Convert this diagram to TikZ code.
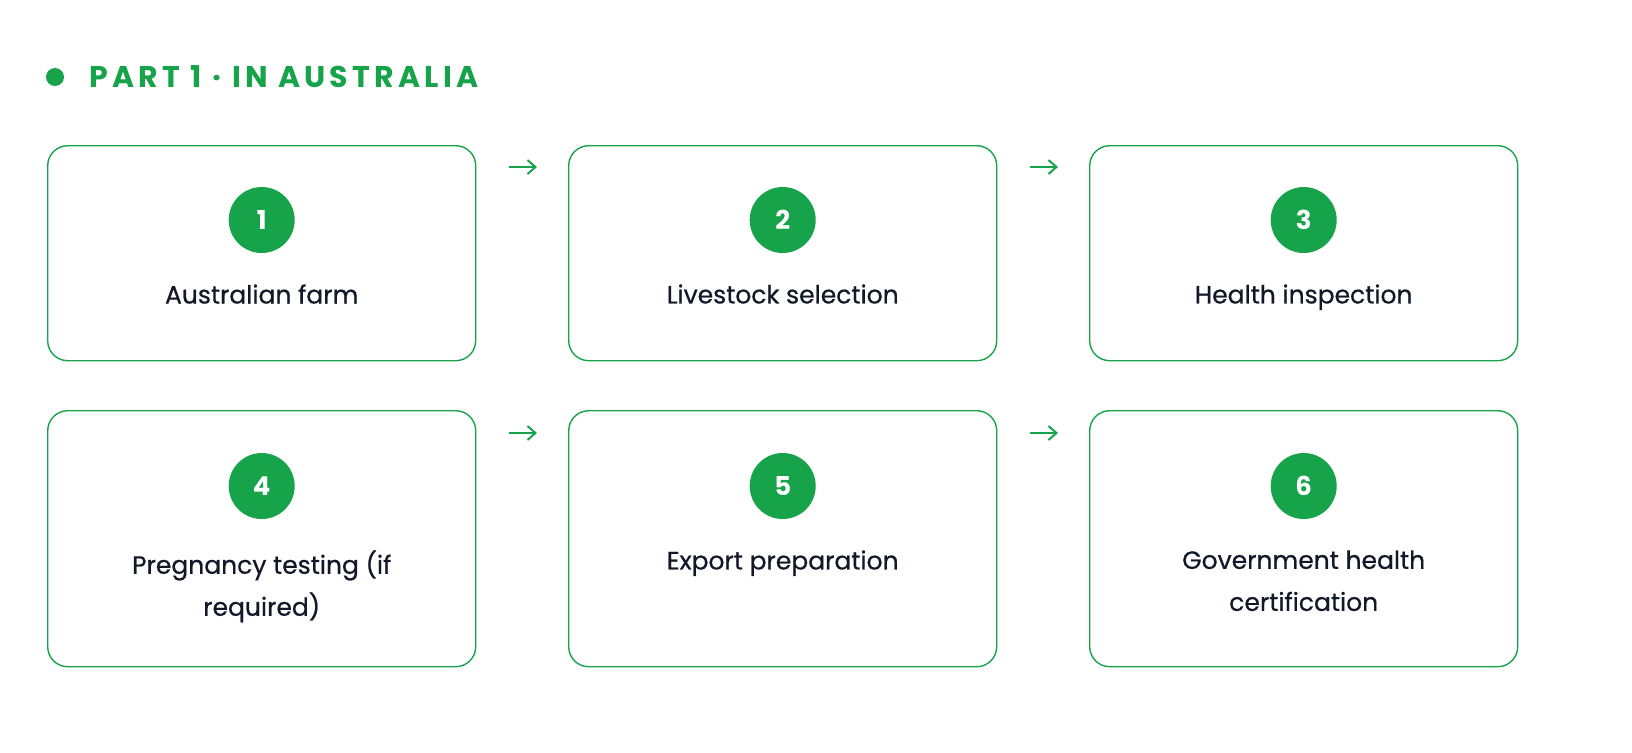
\documentclass[tikz,border=0pt]{standalone}
\usepackage{fontspec}
\setmainfont{Poppins}
\newfontfamily\headfont[LetterSpace=14]{Poppins}
\newfontfamily\stepfont[FakeBold=0.6]{Poppins}
\usetikzlibrary{arrows.meta,positioning}
\definecolor{farmgreen}{HTML}{16A34A}
\definecolor{inkdark}{HTML}{111827}
\begin{document}
\begin{tikzpicture}[x=0.5pt,y=-0.5pt,
  card/.style={draw=farmgreen,line width=0.7pt,rounded corners=10pt,minimum width=214pt,anchor=north west,inner sep=0pt},
  badge/.style={circle,fill=farmgreen,minimum size=33pt,inner sep=0pt,text=white,font=\fontsize{13}{15}\selectfont\bfseries},
  steptext/.style={anchor=north,align=center,text=inkdark,font=\stepfont\fontsize{12.5}{21}\selectfont,inner sep=0pt},
  flow/.style={-{Straight Barb[length=4pt,width=7pt]},draw=farmgreen,line width=1pt}]
\useasboundingbox (0,0) rectangle (1632,752);

\fill[farmgreen] (55,77) circle (4.5pt);
\node[anchor=west,inner sep=0pt,text=farmgreen,font=\headfont\fontsize{15}{18}\selectfont\bfseries] (title) at (89,77) {PART 1 · IN AUSTRALIA};

\foreach \i/\x/\txt in {1/47/Australian farm,2/568/Livestock selection,3/1089/Health inspection}
{
  \node[card,minimum height=107.5pt] (b\i) at (\x,145) {};
  \node[badge] (n\i) at ([yshift=-37.5pt]b\i.north) {\i};
  \node[steptext] (t\i) at ([yshift=-69.5pt]b\i.north) {\txt};
}
\foreach \i/\x/\txt in {4/47/{Pregnancy testing (if\\required)},5/568/Export preparation,6/1089/{Government health\\certification}}
{
  \node[card,minimum height=128pt] (b\i) at (\x,410) {};
  \node[badge] (n\i) at ([yshift=-38pt]b\i.north) {\i};
  \node[steptext] (t\i) at ([yshift=-70pt]b\i.north) {\txt};
}

\draw[flow] ([xshift=16.5pt,yshift=-11pt]b1.north east) -- ([xshift=-15.5pt,yshift=-11pt]b2.north west);
\draw[flow] ([xshift=16.5pt,yshift=-11pt]b2.north east) -- ([xshift=-15.5pt,yshift=-11pt]b3.north west);
\draw[flow] ([xshift=16.5pt,yshift=-11.5pt]b4.north east) -- ([xshift=-15.5pt,yshift=-11.5pt]b5.north west);
\draw[flow] ([xshift=16.5pt,yshift=-11.5pt]b5.north east) -- ([xshift=-15.5pt,yshift=-11.5pt]b6.north west);
\end{tikzpicture}
\end{document}
